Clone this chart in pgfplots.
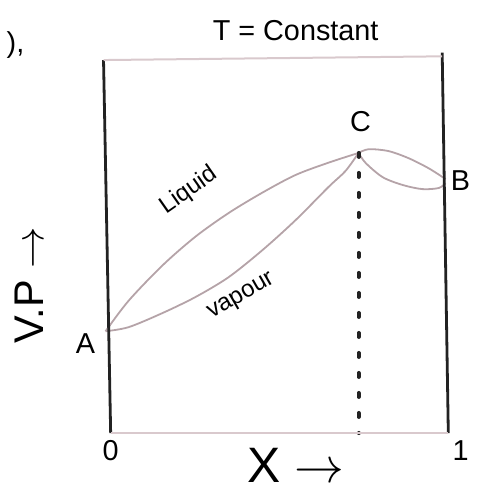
\documentclass[border=0pt]{standalone}
\usepackage{pgfplots}
\pgfplotsset{compat=1.18}
\usepackage{fontspec}
\setmainfont{Liberation Sans}

\definecolor{ink}{HTML}{222222}
\definecolor{faint}{HTML}{D9C9CD}
\definecolor{curve}{HTML}{B5A3A8}

\begin{document}
\begin{tikzpicture}
  \begin{axis}[
      scale only axis,
      width=170pt,
      height=186.5pt,
      xmin=0, xmax=1,
      ymin=0, ymax=1,
      hide axis,
      clip=false,
      every node/.append style={text=ink},
    ]
    % liquid curve A -> C
    \addplot[curve, line width=0.9pt, smooth] coordinates {
        (0,0.273) (0.068,0.355) (0.168,0.450) (0.265,0.527) (0.362,0.590)
        (0.462,0.645) (0.559,0.692) (0.656,0.725) (0.744,0.751)
      };
    % vapour curve A -> C
    \addplot[curve, line width=0.9pt, smooth] coordinates {
        (0,0.273) (0.068,0.284) (0.168,0.322) (0.265,0.365) (0.362,0.418)
        (0.462,0.491) (0.559,0.571) (0.656,0.660) (0.706,0.703) (0.744,0.751)
      };
    % C -> B, upper
    \addplot[curve, line width=0.9pt, smooth] coordinates {
        (0.744,0.751) (0.774,0.761) (0.832,0.756) (0.891,0.737) (0.95,0.710) (1,0.681)
      };
    % C -> B, lower
    \addplot[curve, line width=0.9pt, smooth] coordinates {
        (0.744,0.751) (0.765,0.724) (0.815,0.686) (0.874,0.665) (0.932,0.654)
        (0.98,0.657) (1,0.670)
      };
    % dotted drop from C
    \addplot[ink, line width=2pt, dash pattern=on 2pt off 8pt, line cap=round] coordinates {
        (0.744,0.751) (0.744,0)
      };
    % frame
    \draw[ink, line width=1.4pt] (axis cs:-0.006,1.0) -- (axis cs:0.015,0);
    \draw[ink, line width=1.4pt] (axis cs:0.99,1.02) -- (axis cs:1.008,0);
    \draw[faint, line width=1pt] (axis cs:-0.006,1.0) -- (axis cs:0.99,1.01);
    \draw[faint, line width=1pt] (axis cs:0.015,0) -- (axis cs:1.008,0);
    % labels
    \node[font=\Large] at (axis cs:0.559,1.080) {T = Constant};
    \node[font=\huge, rotate=90] at (axis cs:-0.225,0.397) {V.P $\rightarrow$};
    \node[font=\Huge] at (axis cs:0.559,-0.086) {X $\rightarrow$};
    \node[font=\Large] at (axis cs:0.015,-0.046) {0};
    \node[font=\Large] at (axis cs:1.044,-0.046) {1};
    \node[font=\Large] at (axis cs:-0.059,0.241) {A};
    \node[font=\Large] at (axis cs:1.044,0.678) {B};
    \node[font=\Large] at (axis cs:0.75,0.834) {C};
    \node[font=\large, rotate=35] at (axis cs:0.245,0.650) {Liquid};
    \node[font=\large, rotate=30] at (axis cs:0.400,0.365) {vapour};
    \node[font=\Large] at (axis cs:-0.265,1.040) {),};
    % page extent
    \path (axis cs:-0.294,-0.166) rectangle (axis cs:1.076,1.161);
  \end{axis}
\end{tikzpicture}
\end{document}
